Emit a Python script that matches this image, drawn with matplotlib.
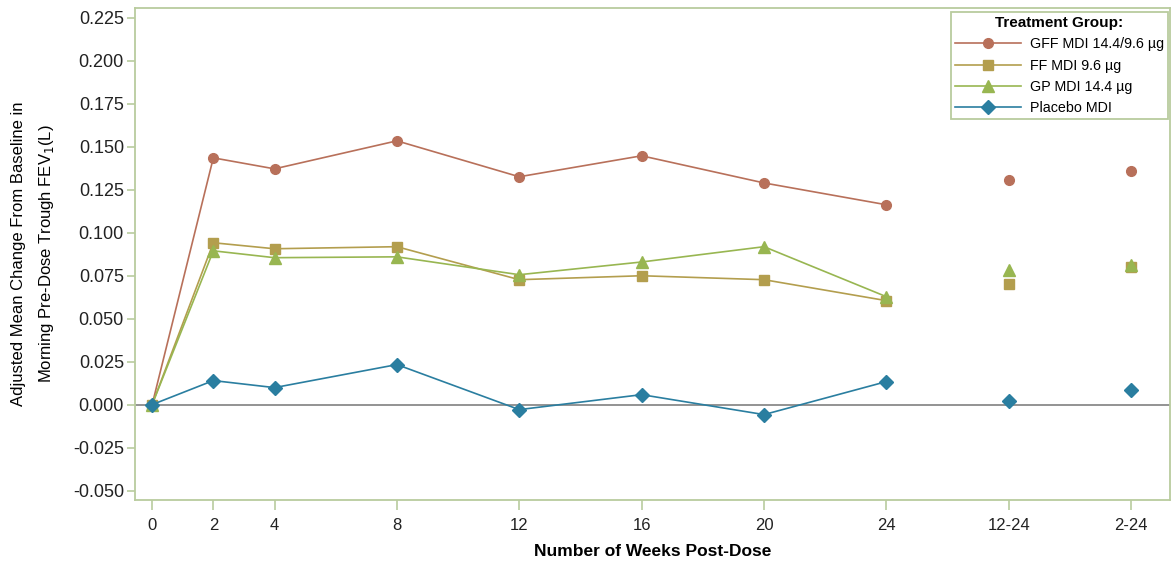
import numpy as np
import matplotlib.pyplot as plt
from matplotlib.lines import Line2D

# Zeitpunkte (Wochen) und Werte der vier Behandlungsgruppen
weeks = [0, 2, 4, 8, 12, 16, 20, 24]
pooled_labels = ['12-24', '2-24']
pooled_pos = [28, 32]

gff = [0.0, 0.1436, 0.1372, 0.1535, 0.1326, 0.1448, 0.1290, 0.1163]
ff = [0.0, 0.0942, 0.0907, 0.0919, 0.0727, 0.0750, 0.0727, 0.0605]
gp = [0.0, 0.0895, 0.0855, 0.0860, 0.0756, 0.0830, 0.0919, 0.0628]
placebo = [0.0, 0.0140, 0.0099, 0.0233, -0.0029, 0.0058, -0.0058, 0.0134]

gff_pooled = [0.1308, 0.1360]
ff_pooled = [0.0703, 0.0800]
gp_pooled = [0.0785, 0.0814]
placebo_pooled = [0.0023, 0.0087]

names = ['GFF MDI 14.4/9.6 µg', 'FF MDI 9.6 µg', 'GP MDI 14.4 µg', 'Placebo MDI']
colors = ['#b8705a', '#b39e4e', '#98b651', '#2a7ea0']
markers = ['o', 's', '^', 'D']
sizes = [7, 7, 8, 7.5]

frame = '#b9cc9e'
plt.rcParams['font.family'] = ['Liberation Sans', 'DejaVu Sans']

fig = plt.figure(figsize=(11.75, 5.62), dpi=100)
ax = fig.add_axes([135/1175, 1-500/562, 1035/1175, 492/562])

series = [(gff, gff_pooled), (ff, ff_pooled), (gp, gp_pooled), (placebo, placebo_pooled)]
ax.axhline(0, color='#808080', lw=1.2, zorder=1)
for (vals, pooled), c, m, s in zip(series, colors, markers, sizes):
    ax.plot(weeks, vals, color=c, lw=1.2, marker=m, ms=s, mec=c, zorder=3)
    ax.plot(pooled_pos, pooled, ls='none', color=c, marker=m, ms=s, mec=c, zorder=3)

ax.set_xlim(-0.56, 33.27)
ax.set_ylim(-0.0555, 0.2308)
yt = np.arange(-0.05, 0.226, 0.025)
ax.set_yticks(yt)
ax.set_yticklabels(['%.3f' % v for v in yt])
ax.set_xticks(weeks + pooled_pos)
ax.set_xticklabels([str(w) for w in weeks] + pooled_labels)

for sp in ax.spines.values():
    sp.set_color(frame)
    sp.set_linewidth(1.3)
ax.tick_params(axis='both', color=frame, width=1.2, labelcolor='#222222')
ax.tick_params(axis='y', labelsize=13, length=6, pad=2)
ax.tick_params(axis='x', labelsize=12, length=7, pad=6)

ax.set_xlabel('Number of Weeks Post-Dose', fontsize=12.5, fontweight='bold', labelpad=8)
ax.set_ylabel('Adjusted Mean Change From Baseline in\nMorning Pre-Dose Trough FEV$_1$(L)',
              fontsize=12, labelpad=12, linespacing=1.8)

handles = [Line2D([], [], color=c, marker=m, ms=s, mec=c, lw=1.2)
           for c, m, s in zip(colors, markers, sizes)]
leg = ax.legend(handles, names, title='Treatment Group:', loc='upper right',
                bbox_to_anchor=(0.998, 0.992), borderaxespad=0, fontsize=10.3,
                title_fontsize=11, handlelength=4.6, handletextpad=0.6,
                labelspacing=0.5, borderpad=0.3, fancybox=False, framealpha=1)
leg.get_title().set_fontweight('bold')
leg.get_frame().set_edgecolor(frame)
leg.get_frame().set_linewidth(1.3)

fig.savefig('out.png', dpi=100)
